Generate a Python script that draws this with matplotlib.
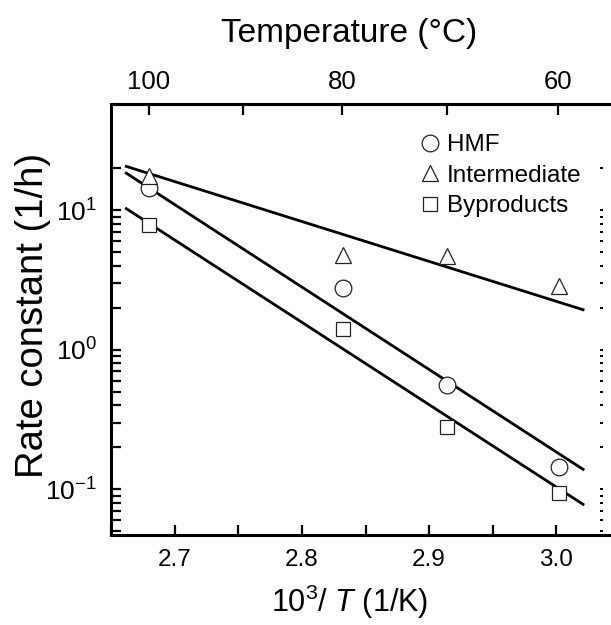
import matplotlib
matplotlib.use('Agg')
import matplotlib.pyplot as plt
from matplotlib.ticker import FixedLocator, MultipleLocator, NullFormatter, LogLocator

plt.rcParams['font.family'] = ['Liberation Sans', 'DejaVu Sans']
plt.rcParams['mathtext.fontset'] = 'custom'
plt.rcParams['mathtext.rm'] = 'Liberation Sans'
plt.rcParams['mathtext.it'] = 'Liberation Sans:italic'
plt.rcParams['mathtext.default'] = 'regular'
plt.rcParams['axes.unicode_minus'] = False

# data (x = 1000/T in 1/K)
inv_t = [2.680, 2.832, 2.914, 3.002]
hmf = [14.6, 2.8, 0.56, 0.145]
intermediate = [17.6, 4.8, 4.7, 2.85]
byproducts = [7.9, 1.4, 0.28, 0.094]

# fitted lines (end points)
fit_x = [2.662, 3.021]
fit_hmf = [18.5, 0.139]
fit_int = [20.7, 1.94]
fit_byp = [10.3, 0.078]

temp_ticks = [100, 80, 60]
temp_minor = [90, 70]

fig = plt.figure(figsize=(6.11, 6.25), dpi=100)
ax = fig.add_axes([0.1817, 0.144, 0.833, 0.6896])

for fy in (fit_int, fit_hmf, fit_byp):
    ax.plot(fit_x, fy, color='black', lw=2.0, zorder=2)

mk = dict(ls='none', mfc='white', mec='#222222', mew=0.9, zorder=3)
h1, = ax.plot(inv_t, hmf, marker='o', ms=12, label='HMF', **mk)
h2, = ax.plot(inv_t, intermediate, marker='^', ms=12, label='Intermediate', **mk)
h3, = ax.plot(inv_t, byproducts, marker='s', ms=10, label='Byproducts', **mk)

ax.set_yscale('log')
ax.set_xlim(2.65, 3.05)
ax.set_ylim(0.047, 58)

ax.xaxis.set_minor_locator(MultipleLocator(0.05))
ax.set_xticks([2.7, 2.8, 2.9, 3.0])
ax.set_xticklabels(['2.7', '2.8', '2.9', '3.0'])

minor_y = [k * 10.0 ** e for e in (-2, -1, 0) for k in range(2, 10)] + [20]
minor_y = [v for v in minor_y if 0.047 < v < 58]
ax.yaxis.set_major_locator(LogLocator(base=10, numticks=10))
ax.yaxis.set_minor_locator(FixedLocator(minor_y))
ax.yaxis.set_minor_formatter(NullFormatter())

ax.tick_params(which='both', direction='in', length=7, width=1.6,
               top=False, right=False)
ax.tick_params(axis='x', labelsize=17.5, pad=10)
ax.tick_params(axis='y', labelsize=19, pad=10)
for s in ax.spines.values():
    s.set_linewidth(2.2)

ax.set_xlabel(r'10$^{3}$/ $\mathit{T}$ (1/K)', fontsize=22)
ax.xaxis.set_label_coords(0.468, -0.111)
ax.set_ylabel('Rate constant (1/h)', fontsize=27.5)
ax.yaxis.set_label_coords(-0.117, 0.51)

# top axis in Celsius
top = ax.secondary_xaxis('top', functions=(lambda x: 1000.0 / x - 273.15,
                                            lambda c: 1000.0 / (c + 273.15)))
top.xaxis.set_major_locator(FixedLocator(temp_ticks))
top.xaxis.set_minor_locator(FixedLocator(temp_minor))
top.tick_params(which='both', direction='in', length=8, width=1.6,
                labelsize=18.5, pad=7)
top.spines['top'].set_linewidth(2.2)
top.set_xlabel('Temperature (°C)', fontsize=24)
top.xaxis.set_label_coords(0.468, 1.144, transform=ax.transAxes)

# faint right-hand ticks
rt = ax.secondary_yaxis(0.9666, functions=(lambda v: v, lambda v: v))
rt.spines['right'].set_visible(False)
rt.yaxis.set_minor_locator(FixedLocator(minor_y))
rt.tick_params(which='both', direction='in', length=2, width=1.4,
               labelright=False, labelleft=False)

ax.legend(handles=[h1, h2, h3], loc='upper left', frameon=False,
          fontsize=17.5, handlelength=0.8, handletextpad=0.3, labelspacing=0.35,
          borderaxespad=0, borderpad=0, bbox_to_anchor=(0.688, 0.785),
          bbox_transform=fig.transFigure)

fig.savefig('out.png', dpi=100)
